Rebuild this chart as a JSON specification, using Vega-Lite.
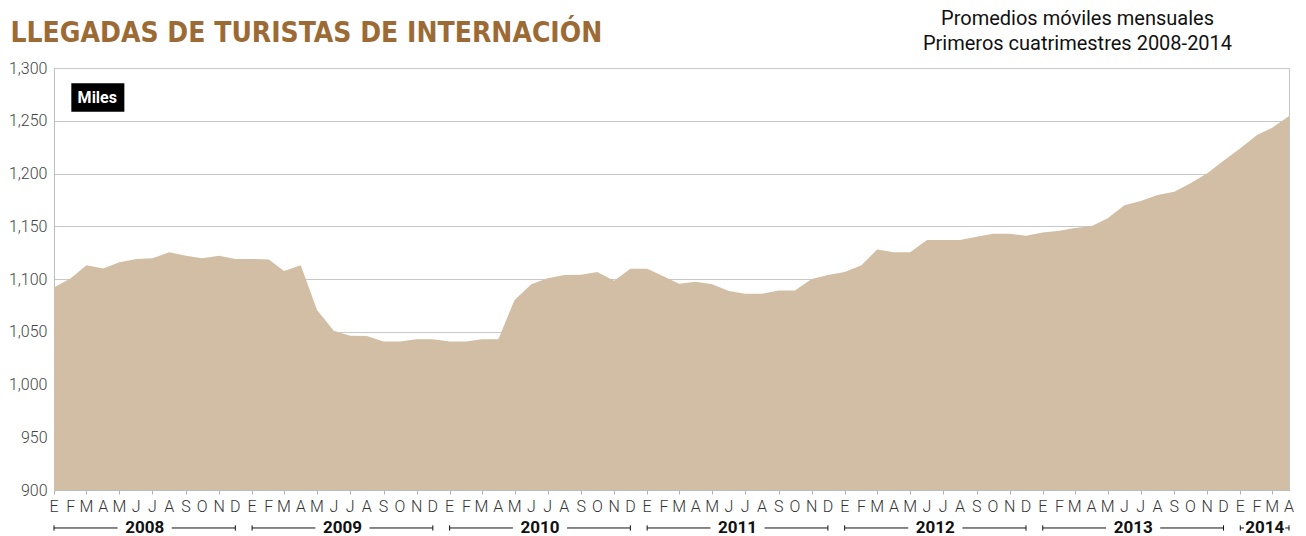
{
  "$schema": "https://vega.github.io/schema/vega-lite/v6.json",
  "width": 1235,
  "height": 422,
  "autosize": "none",
  "padding": {"left": 54, "top": 68, "right": 17, "bottom": 46},
  "background": "white",
  "config": {"view": {"stroke": "#c4c4c4", "strokeWidth": 1}},
  "datasets": {
    "arrivals": [
      {"month": "2008-01-01", "miles": 1092}, {"month": "2008-02-01", "miles": 1100.7}, {"month": "2008-03-01", "miles": 1113}, {"month": "2008-04-01", "miles": 1110},
      {"month": "2008-05-01", "miles": 1115.8}, {"month": "2008-06-01", "miles": 1119}, {"month": "2008-07-01", "miles": 1119.6}, {"month": "2008-08-01", "miles": 1125.3},
      {"month": "2008-09-01", "miles": 1122}, {"month": "2008-10-01", "miles": 1119.6}, {"month": "2008-11-01", "miles": 1122}, {"month": "2008-12-01", "miles": 1119},
      {"month": "2009-01-01", "miles": 1119}, {"month": "2009-02-01", "miles": 1118.5}, {"month": "2009-03-01", "miles": 1107.6}, {"month": "2009-04-01", "miles": 1113},
      {"month": "2009-05-01", "miles": 1070.6}, {"month": "2009-06-01", "miles": 1051}, {"month": "2009-07-01", "miles": 1046.3}, {"month": "2009-08-01", "miles": 1046},
      {"month": "2009-09-01", "miles": 1040.8}, {"month": "2009-10-01", "miles": 1040.8}, {"month": "2009-11-01", "miles": 1043}, {"month": "2009-12-01", "miles": 1043},
      {"month": "2010-01-01", "miles": 1040.8}, {"month": "2010-02-01", "miles": 1040.8}, {"month": "2010-03-01", "miles": 1043}, {"month": "2010-04-01", "miles": 1043},
      {"month": "2010-05-01", "miles": 1080}, {"month": "2010-06-01", "miles": 1095}, {"month": "2010-07-01", "miles": 1100.7}, {"month": "2010-08-01", "miles": 1103.8},
      {"month": "2010-09-01", "miles": 1104}, {"month": "2010-10-01", "miles": 1106.6}, {"month": "2010-11-01", "miles": 1098.4}, {"month": "2010-12-01", "miles": 1109.8},
      {"month": "2011-01-01", "miles": 1109.8}, {"month": "2011-02-01", "miles": 1102.3}, {"month": "2011-03-01", "miles": 1095.6}, {"month": "2011-04-01", "miles": 1097.5},
      {"month": "2011-05-01", "miles": 1095}, {"month": "2011-06-01", "miles": 1088.6}, {"month": "2011-07-01", "miles": 1086}, {"month": "2011-08-01", "miles": 1086},
      {"month": "2011-09-01", "miles": 1089}, {"month": "2011-10-01", "miles": 1089}, {"month": "2011-11-01", "miles": 1100}, {"month": "2011-12-01", "miles": 1103.8},
      {"month": "2012-01-01", "miles": 1106.6}, {"month": "2012-02-01", "miles": 1113}, {"month": "2012-03-01", "miles": 1128}, {"month": "2012-04-01", "miles": 1125.3},
      {"month": "2012-05-01", "miles": 1125.3}, {"month": "2012-06-01", "miles": 1137}, {"month": "2012-07-01", "miles": 1137}, {"month": "2012-08-01", "miles": 1137},
      {"month": "2012-09-01", "miles": 1140}, {"month": "2012-10-01", "miles": 1143}, {"month": "2012-11-01", "miles": 1143}, {"month": "2012-12-01", "miles": 1141},
      {"month": "2013-01-01", "miles": 1144}, {"month": "2013-02-01", "miles": 1145.8}, {"month": "2013-03-01", "miles": 1148.3}, {"month": "2013-04-01", "miles": 1150},
      {"month": "2013-05-01", "miles": 1157.5}, {"month": "2013-06-01", "miles": 1170}, {"month": "2013-07-01", "miles": 1174}, {"month": "2013-08-01", "miles": 1179.6},
      {"month": "2013-09-01", "miles": 1182.8}, {"month": "2013-10-01", "miles": 1190.7}, {"month": "2013-11-01", "miles": 1200.2}, {"month": "2013-12-01", "miles": 1212},
      {"month": "2014-01-01", "miles": 1224}, {"month": "2014-02-01", "miles": 1236.5}, {"month": "2014-03-01", "miles": 1243.4}, {"month": "2014-04-01", "miles": 1254.5}
    ],
    "years": [
      {"year": "2008", "start": "2008-01-01", "end": "2008-12-01"},
      {"year": "2009", "start": "2009-01-01", "end": "2009-12-01"},
      {"year": "2010", "start": "2010-01-01", "end": "2010-12-01"},
      {"year": "2011", "start": "2011-01-01", "end": "2011-12-01"},
      {"year": "2012", "start": "2012-01-01", "end": "2012-12-01"},
      {"year": "2013", "start": "2013-01-01", "end": "2013-12-01"},
      {"year": "2014", "start": "2014-01-01", "end": "2014-04-01"}
    ]
  },
  "layer": [
    {
      "data": {"name": "arrivals"},
      "mark": {"type": "area", "color": "#d2bea5", "opacity": 1, "clip": true},
      "encoding": {
        "x": {
          "field": "month",
          "type": "temporal",
          "scale": {"type": "utc", "domain": [{"year": 2008, "month": 1, "date": 1, "utc": true}, {"year": 2014, "month": 4, "date": 1, "utc": true}]},
          "axis": {
            "title": "LLEGADAS DE TURISTAS DE INTERNACIÓN",
            "titleX": -44,
            "titleY": -449,
            "titleAlign": "left",
            "titleBaseline": "alphabetic",
            "titleFont": "DejaVu Sans Condensed, sans-serif",
            "titleFontSize": 28,
            "titleFontWeight": "bold",
            "titleColor": "#9c6b35",
            "grid": false,
            "labels": false,
            "tickCount": {"interval": "month", "step": 2},
            "tickSize": 4,
            "tickColor": "#b0b0b0",
            "domainColor": "#bdbdbd"
          }
        },
        "y": {
          "field": "miles",
          "type": "quantitative",
          "scale": {"domain": [900, 1300], "nice": false, "zero": false},
          "axis": {
            "title": ["Promedios móviles mensuales", "Primeros cuatrimestres 2008-2014"],
            "titleAngle": 0,
            "titleX": 1023,
            "titleY": -60,
            "titleAlign": "center",
            "titleBaseline": "top",
            "titleFont": "Roboto",
            "titleFontSize": 20,
            "titleFontWeight": "normal",
            "titleColor": "#111",
            "titleLineHeight": 25,
            "values": [900, 950, 1000, 1050, 1100, 1150, 1200, 1250, 1300],
            "format": ",.0f",
            "grid": true,
            "gridColor": "#c8c8c8",
            "ticks": false,
            "domainColor": "#bdbdbd",
            "labelPadding": 7,
            "labelFont": "Roboto",
            "labelFontWeight": 300,
            "labelFontSize": 16,
            "labelColor": "#444"
          }
        }
      }
    },
    {
      "data": {"name": "arrivals"},
      "transform": [
        {"calculate": "['E','F','M','A','M','J','J','A','S','O','N','D'][utcmonth(toDate(datum.month))]", "as": "letter"}
      ],
      "mark": {"type": "text", "color": "#333", "font": "Roboto", "fontWeight": 300, "fontSize": 16, "align": "center", "baseline": "middle"},
      "encoding": {
        "x": {"field": "month", "type": "temporal"},
        "y": {"datum": 883.5, "type": "quantitative"},
        "text": {"field": "letter"}
      }
    },
    {
      "data": {"values": [{"label": "Miles"}]},
      "mark": {"type": "rect", "color": "#000"},
      "encoding": {
        "x": {"datum": {"year": 2008, "month": 2, "date": 2, "utc": true}, "type": "temporal"},
        "x2": {"datum": {"year": 2008, "month": 5, "date": 10, "utc": true}},
        "y": {"datum": 1258.6, "type": "quantitative"},
        "y2": {"datum": 1285.5}
      }
    },
    {
      "data": {"values": [{"label": "Miles"}]},
      "mark": {"type": "text", "color": "#fff", "font": "Roboto", "fontWeight": "bold", "fontSize": 16, "align": "center", "baseline": "middle"},
      "encoding": {
        "x": {"datum": {"year": 2008, "month": 3, "date": 21, "utc": true}, "type": "temporal"},
        "y": {"datum": 1272, "type": "quantitative"},
        "text": {"field": "label"}
      }
    },
    {
      "data": {"name": "years"},
      "transform": [
        {"calculate": "time(toDate(datum.start))", "as": "s"},
        {"calculate": "time(toDate(datum.end))", "as": "e"},
        {"calculate": "(datum.s + datum.e) / 2", "as": "mid"},
        {"calculate": "min(50, (datum.e - datum.s) / 2 / 864e5 - 7) * 864e5", "as": "gap"},
        {"calculate": "datum.mid - datum.gap", "as": "l2"},
        {"calculate": "datum.mid + datum.gap", "as": "r1"}
      ],
      "layer": [
        {
          "mark": {"type": "rule", "color": "#111", "strokeWidth": 1},
          "encoding": {
            "x": {"field": "s", "type": "temporal"},
            "x2": {"field": "l2"},
            "y": {"datum": 864, "type": "quantitative"}
          }
        },
        {
          "mark": {"type": "rule", "color": "#111", "strokeWidth": 1},
          "encoding": {
            "x": {"field": "r1", "type": "temporal"},
            "x2": {"field": "e"},
            "y": {"datum": 864, "type": "quantitative"}
          }
        },
        {
          "mark": {"type": "rule", "color": "#111", "strokeWidth": 1},
          "encoding": {
            "x": {"field": "s", "type": "temporal"},
            "y": {"datum": 861.5, "type": "quantitative"},
            "y2": {"datum": 866.5}
          }
        },
        {
          "mark": {"type": "rule", "color": "#111", "strokeWidth": 1},
          "encoding": {
            "x": {"field": "e", "type": "temporal"},
            "y": {"datum": 861.5, "type": "quantitative"},
            "y2": {"datum": 866.5}
          }
        },
        {
          "mark": {"type": "text", "color": "#111", "font": "Roboto", "fontWeight": "bold", "fontSize": 17, "align": "center", "baseline": "middle"},
          "encoding": {
            "x": {"field": "mid", "type": "temporal"},
            "y": {"datum": 864, "type": "quantitative"},
            "text": {"field": "year"}
          }
        }
      ]
    }
  ]
}
